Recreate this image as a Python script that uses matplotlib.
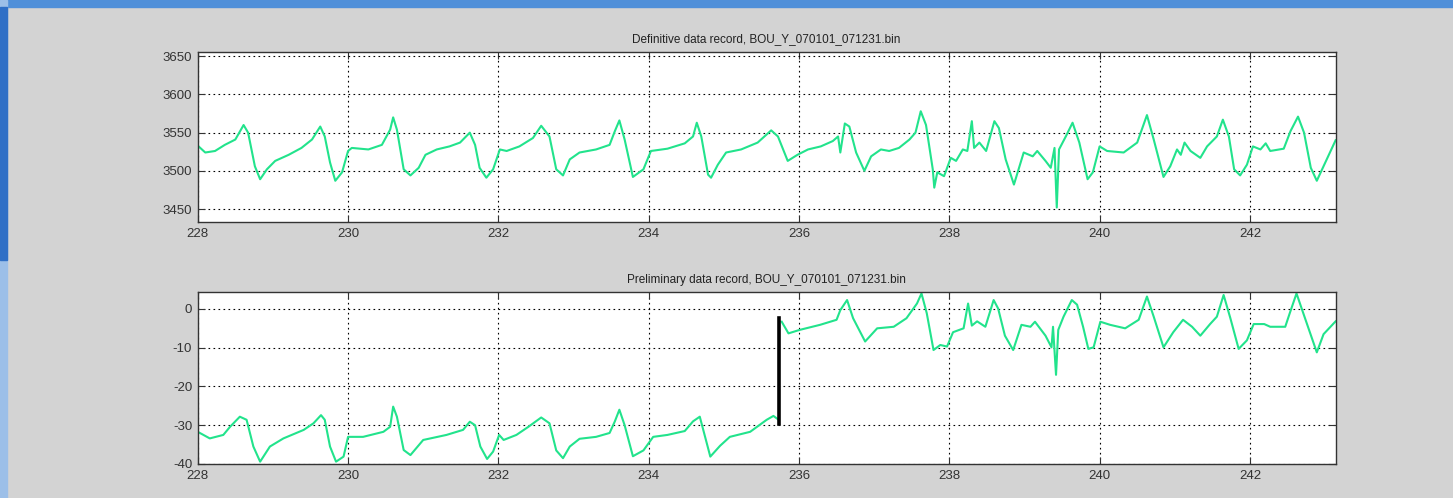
import matplotlib
matplotlib.use("Agg")
import matplotlib.pyplot as plt
from matplotlib.patches import Rectangle

# day of year / field values, definitive record (nT)
day_def = [228.00, 228.10, 228.23, 228.36, 228.50, 228.61, 228.67, 228.76, 228.83, 228.92,
           229.03, 229.21, 229.38, 229.52, 229.63, 229.69, 229.76, 229.83, 229.92, 230.00,
           230.05, 230.27, 230.45, 230.56, 230.60, 230.65, 230.74, 230.83, 230.94, 231.03,
           231.18, 231.35, 231.49, 231.62, 231.69, 231.75, 231.84, 231.93, 232.02, 232.11,
           232.28, 232.46, 232.57, 232.68, 232.77, 232.86, 232.95, 233.08, 233.30, 233.48,
           233.55, 233.61, 233.68, 233.79, 233.93, 234.03, 234.25, 234.48, 234.59, 234.64,
           234.70, 234.79, 234.83, 234.92, 235.03, 235.23, 235.45, 235.63, 235.72, 235.85,
           235.98, 236.12, 236.29, 236.45, 236.52, 236.55, 236.61, 236.67, 236.76, 236.87,
           236.96, 237.09, 237.20, 237.33, 237.47, 237.55, 237.62, 237.69, 237.78, 237.80,
           237.84, 237.93, 238.02, 238.09, 238.18, 238.24, 238.30, 238.33, 238.40, 238.49,
           238.60, 238.66, 238.75, 238.86, 238.99, 239.11, 239.17, 239.28, 239.35, 239.40,
           239.43, 239.46, 239.55, 239.64, 239.73, 239.84, 239.91, 240.00, 240.10, 240.32,
           240.50, 240.63, 240.72, 240.85, 240.94, 241.03, 241.08, 241.13, 241.21, 241.34,
           241.43, 241.56, 241.64, 241.72, 241.79, 241.87, 241.96, 242.04, 242.14, 242.21,
           242.27, 242.45, 242.54, 242.64, 242.72, 242.81, 242.89, 242.98, 243.14]
y_def = [3533, 3524, 3526, 3534, 3541, 3560, 3550, 3506, 3489, 3502,
         3513, 3521, 3530, 3541, 3558, 3545, 3511, 3487, 3498, 3526,
         3530, 3528, 3534, 3554, 3570, 3554, 3502, 3494, 3504, 3521,
         3528, 3532, 3537, 3550, 3534, 3504, 3491, 3502, 3528, 3526,
         3532, 3543, 3559, 3545, 3502, 3494, 3515, 3524, 3528, 3534,
         3552, 3566, 3541, 3492, 3502, 3526, 3529, 3536, 3545, 3563,
         3545, 3495, 3491, 3508, 3524, 3528, 3537, 3553, 3545, 3513,
         3521, 3528, 3532, 3539, 3545, 3524, 3562, 3558, 3524, 3500,
         3519, 3528, 3526, 3530, 3541, 3550, 3578, 3560, 3502, 3478,
         3498, 3493, 3517, 3513, 3528, 3526, 3565, 3530, 3537, 3526,
         3565, 3556, 3515, 3482, 3524, 3519, 3526, 3513, 3504, 3530,
         3452, 3528, 3545, 3563, 3537, 3489, 3498, 3532, 3526, 3524,
         3537, 3573, 3541, 3492, 3506, 3528, 3521, 3537, 3526, 3517,
         3532, 3545, 3567, 3545, 3502, 3494, 3508, 3532, 3528, 3536,
         3526, 3529, 3552, 3571, 3550, 3504, 3487, 3506, 3540]

# preliminary record, before and after the baseline jump
day_pre1 = [228.00, 228.16, 228.34, 228.43, 228.56, 228.65, 228.74, 228.83, 228.96, 229.14,
            229.41, 229.54, 229.64, 229.69, 229.76, 229.84, 229.94, 230.00, 230.20, 230.47,
            230.56, 230.60, 230.65, 230.74, 230.83, 231.00, 231.31, 231.53, 231.62, 231.69,
            231.76, 231.85, 231.93, 232.01, 232.07, 232.24, 232.40, 232.57, 232.68, 232.77,
            232.86, 232.95, 233.08, 233.30, 233.48, 233.55, 233.61, 233.68, 233.79, 233.93,
            234.06, 234.25, 234.48, 234.59, 234.68, 234.82, 234.95, 235.08, 235.35, 235.57,
            235.66, 235.73]
y_pre1 = [-31.7, -33.4, -32.5, -30.4, -27.8, -28.6, -35.5, -39.4, -35.5, -33.4,
          -31.2, -29.5, -27.4, -28.6, -35.5, -39.4, -38.1, -33.0, -33.0, -31.7,
          -30.4, -25.2, -27.8, -36.4, -37.7, -33.8, -32.5, -31.2, -29.1, -30.0,
          -35.5, -38.7, -36.8, -32.5, -33.8, -32.5, -30.4, -28.0, -29.5, -36.5,
          -38.5, -35.5, -33.5, -33.0, -32.0, -29.0, -26.0, -30.0, -38.0, -36.5,
          -33.0, -32.5, -31.5, -29.0, -27.8, -38.1, -35.3, -33.0, -31.7, -28.6,
          -27.6, -28.6]
day_pre2 = [235.77, 235.86, 236.01, 236.28, 236.50, 236.55, 236.64, 236.72, 236.88, 237.04,
            237.26, 237.43, 237.57, 237.63, 237.70, 237.79, 237.88, 237.97, 238.05, 238.19,
            238.25, 238.30, 238.37, 238.48, 238.59, 238.65, 238.74, 238.85, 238.96, 239.08,
            239.14, 239.28, 239.36, 239.38, 239.42, 239.45, 239.52, 239.63, 239.70, 239.78,
            239.85, 239.92, 240.01, 240.14, 240.34, 240.52, 240.63, 240.72, 240.85, 240.98,
            241.11, 241.23, 241.34, 241.47, 241.56, 241.65, 241.74, 241.85, 241.96, 242.05,
            242.19, 242.27, 242.47, 242.53, 242.62, 242.71, 242.89, 242.98, 243.14]
y_pre2 = [-3.3, -6.3, -5.4, -4.1, -2.8, -0.3, 2.3, -2.4, -8.4, -5.0,
          -4.6, -2.4, 1.4, 4.0, -1.1, -10.6, -9.3, -9.7, -6.0, -5.0,
          1.4, -4.3, -3.2, -4.6, 2.3, 0.1, -6.9, -10.6, -4.1, -4.6,
          -3.3, -6.9, -9.9, -4.6, -17.0, -5.4, -2.0, 2.3, 1.1, -4.6,
          -10.3, -9.9, -3.3, -4.1, -5.0, -2.8, 3.2, -2.0, -9.9, -6.0,
          -2.8, -4.6, -6.9, -3.9, -2.0, 3.6, -2.4, -10.3, -8.1, -3.9,
          -3.9, -4.6, -4.6, -1.1, 4.0, -1.1, -11.2, -6.5, -3.2]

# jump marker in the preliminary record
jump_day = 235.73
jump_y = [-29.7, -2.4]

title_def = "Definitive data record, BOU_Y_070101_071231.bin"
title_pre = "Preliminary data record, BOU_Y_070101_071231.bin"
xticks = [228, 230, 232, 234, 236, 238, 240, 242]
yticks_def = [3450, 3500, 3550, 3600, 3650]
yticks_pre = [-40, -30, -20, -10, 0]

green = "#22e38c"
bg = "#d3d3d3"

plt.rcParams["font.family"] = ["Liberation Sans", "DejaVu Sans"]
plt.rcParams["axes.unicode_minus"] = False
fig = plt.figure(figsize=(14.53, 4.98), dpi=100, facecolor=bg)

# window frame
fig.patches.append(Rectangle((0, 1 - 7 / 498), 1, 7 / 498, transform=fig.transFigure,
                             color="#4f8fd9", zorder=0))
fig.patches.append(Rectangle((0, 0), 7 / 1453, 1, transform=fig.transFigure,
                             color="#9cbfe8", zorder=0))
fig.patches.append(Rectangle((0, 238 / 498), 7 / 1453, 253 / 498, transform=fig.transFigure,
                             color="#2f6fc6", zorder=0))

ax1 = fig.add_axes([0.1361, 0.5542, 0.7831, 0.342])
ax2 = fig.add_axes([0.1361, 0.0683, 0.7831, 0.3448])

ax1.plot(day_def, y_def, color=green, lw=1.5)
ax1.set_ylim(3433, 3656)
ax1.set_yticks(yticks_def)
ax1.set_title(title_def, fontsize=8.5, pad=7, color="#222222")

ax2.plot(day_pre1, y_pre1, color=green, lw=1.5)
ax2.plot(day_pre2, y_pre2, color=green, lw=1.5)
ax2.plot([jump_day, jump_day], jump_y, color="black", lw=2.6)
ax2.set_ylim(-40, 4.3)
ax2.set_yticks(yticks_pre)
ax2.set_title(title_pre, fontsize=8.5, pad=7, color="#222222")

for ax in (ax1, ax2):
    ax.set_xlim(228, 243.14)
    ax.set_xticks(xticks)
    ax.set_facecolor("white")
    ax.grid(True, color="black", linestyle=(0, (1.5, 3)), linewidth=0.8)
    ax.tick_params(direction="in", length=5, width=0.8, labelsize=9.5,
                   colors="#333333", top=True, right=True, pad=4)
    for s in ax.spines.values():
        s.set_linewidth(1.0)
        s.set_color("#333333")

fig.savefig("out.png", dpi=100, facecolor=bg)
